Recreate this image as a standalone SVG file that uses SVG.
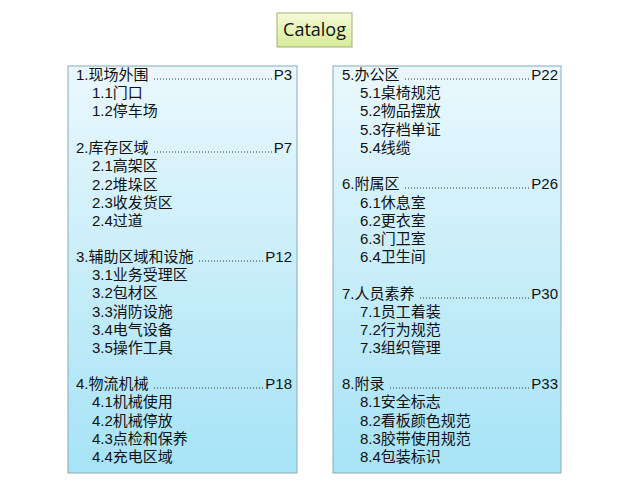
<svg xmlns="http://www.w3.org/2000/svg" width="641" height="481" viewBox="0 0 641 481">
<defs>
<linearGradient id="bg" x1="0" y1="0" x2="0" y2="1"><stop offset="0" stop-color="#eaf8fd"/><stop offset="1" stop-color="#a6e3f6"/></linearGradient>
<linearGradient id="tg" x1="0" y1="0" x2="0" y2="1"><stop offset="0" stop-color="#f6fbd8"/><stop offset="1" stop-color="#d6ec98"/></linearGradient>
<style>
text{font-family:"Liberation Sans","Noto Sans CJK SC",sans-serif;font-size:15px;fill:#111}
.r{text-anchor:end}
.box{fill:url(#bg);stroke:#8aa9b8;stroke-width:1}
.dot{stroke:#333;stroke-width:1;stroke-dasharray:1 2}
</style>
</defs>
<rect width="641" height="481" fill="#fff"/>
<g id="title"><rect x="277" y="13" width="75" height="34" fill="url(#tg)" stroke="#9fb27a"/><text x="314.5" y="36" text-anchor="middle" style="font-family:'Open Sans','Liberation Sans',sans-serif;font-size:18px">Catalog</text></g>
<g id="left"><rect class="box" x="68" y="66" width="229" height="407"/>
<text x="76" y="80">1.现场外围</text><text class="r" x="292" y="80">P3</text>
<text x="92" y="98">1.1门口</text><text x="92" y="116">1.2停车场</text>
<text x="76" y="153">2.库存区域</text><text class="r" x="292" y="153">P7</text>
<text x="92" y="171">2.1高架区</text><text x="92" y="190">2.2堆垛区</text><text x="92" y="208">2.3收发货区</text><text x="92" y="226">2.4过道</text>
<text x="76" y="262">3.辅助区域和设施</text><text class="r" x="292" y="262">P12</text>
<text x="92" y="280">3.1业务受理区</text><text x="92" y="298">3.2包材区</text><text x="92" y="317">3.3消防设施</text><text x="92" y="335">3.4电气设备</text><text x="92" y="353">3.5操作工具</text>
<text x="76" y="389">4.物流机械</text><text class="r" x="292" y="389">P18</text>
<text x="92" y="407">4.1机械使用</text><text x="92" y="426">4.2机械停放</text><text x="92" y="444">4.3点检和保养</text><text x="92" y="462">4.4充电区域</text>
</g>
<g id="right"><rect class="box" x="333" y="66" width="228" height="407"/>
<text x="342" y="80">5.办公区</text><text class="r" x="558" y="80">P22</text>
<text x="360" y="98">5.1桌椅规范</text><text x="360" y="116">5.2物品摆放</text><text x="360" y="135">5.3存档单证</text><text x="360" y="153">5.4线缆</text>
<text x="342" y="189">6.附属区</text><text class="r" x="558" y="189">P26</text>
<text x="360" y="208">6.1休息室</text><text x="360" y="226">6.2更衣室</text><text x="360" y="244">6.3门卫室</text><text x="360" y="262">6.4卫生间</text>
<text x="342" y="299">7.人员素养</text><text class="r" x="558" y="299">P30</text>
<text x="360" y="317">7.1员工着装</text><text x="360" y="335">7.2行为规范</text><text x="360" y="353">7.3组织管理</text>
<text x="342" y="389">8.附录</text><text class="r" x="558" y="389">P33</text>
<text x="360" y="407">8.1安全标志</text><text x="360" y="426">8.2看板颜色规范</text><text x="360" y="444">8.3胶带使用规范</text><text x="360" y="462">8.4包装标识</text>
</g>
<g id="leaders">
<line class="dot" x1="154" y1="79" x2="273" y2="79"/>
<line class="dot" x1="154" y1="152" x2="273" y2="152"/>
<line class="dot" x1="199" y1="261" x2="264" y2="261"/>
<line class="dot" x1="154" y1="388" x2="264" y2="388"/>
<line class="dot" x1="405" y1="79" x2="530" y2="79"/>
<line class="dot" x1="405" y1="188" x2="530" y2="188"/>
<line class="dot" x1="420" y1="298" x2="530" y2="298"/>
<line class="dot" x1="390" y1="388" x2="530" y2="388"/>
</g>
</svg>
